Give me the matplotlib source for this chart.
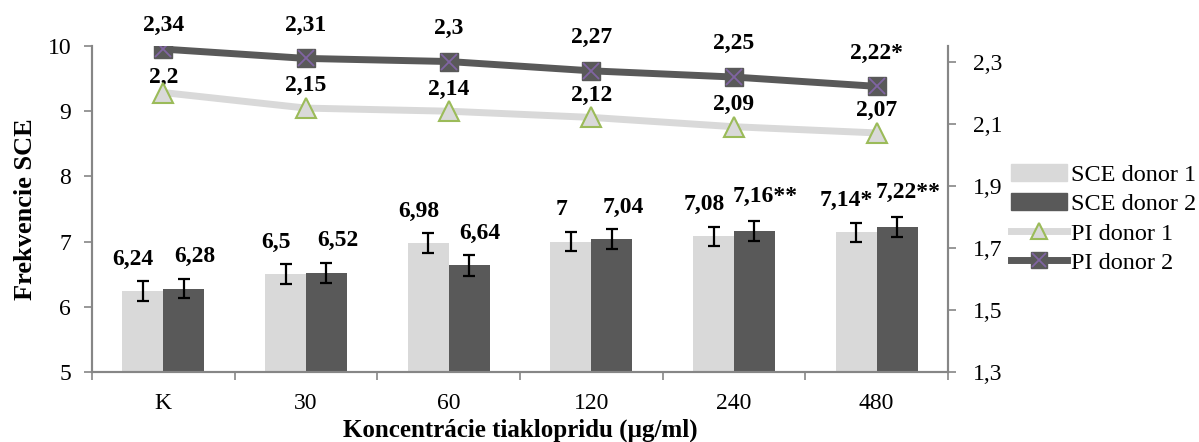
import numpy as np
import matplotlib
matplotlib.use("Agg")
import matplotlib.pyplot as plt
from matplotlib.patches import Patch
from matplotlib.lines import Line2D
from matplotlib.legend_handler import HandlerTuple
from matplotlib.ticker import FuncFormatter

# data
categories = ["K", "30", "60", "120", "240", "480"]
sce_donor1 = [6.24, 6.5, 6.98, 7.0, 7.08, 7.14]
sce_donor2 = [6.28, 6.52, 6.64, 7.04, 7.16, 7.22]
sce_err1 = [0.15, 0.15, 0.15, 0.15, 0.15, 0.15]
sce_err2 = [0.15, 0.15, 0.16, 0.15, 0.15, 0.15]
sce_labels1 = ["6,24", "6,5", "6,98", "7", "7,08", "7,14*"]
sce_labels2 = ["6,28", "6,52", "6,64", "7,04", "7,16**", "7,22**"]
pi_donor1 = [2.2, 2.15, 2.14, 2.12, 2.09, 2.07]
pi_donor2 = [2.34, 2.31, 2.3, 2.27, 2.25, 2.22]
pi_labels1 = ["2,2", "2,15", "2,14", "2,12", "2,09", "2,07"]
pi_labels2 = ["2,34", "2,31", "2,3", "2,27", "2,25", "2,22*"]

light = "#D9D9D9"
dark = "#595959"
green = "#9BBB59"
purple = "#8064A2"
axis_gray = "#868686"

plt.rcParams["font.family"] = ["Liberation Serif", "DejaVu Serif"]

fig = plt.figure(figsize=(11.99, 4.42), dpi=100)
ax = fig.add_axes([92 / 1199, 70 / 442, 856 / 1199, 326 / 442])
ax2 = ax.twinx()

x = np.arange(len(categories))
w = 0.287
ax.bar(x - w / 2, sce_donor1, w, color=light, zorder=2)
ax.bar(x + w / 2, sce_donor2, w, color=dark, zorder=2)
ax.errorbar(x - w / 2, sce_donor1, yerr=sce_err1, fmt="none", ecolor="black",
            elinewidth=1.6, capsize=4.5, capthick=1.6, zorder=3)
ax.errorbar(x + w / 2, sce_donor2, yerr=sce_err2, fmt="none", ecolor="black",
            elinewidth=1.6, capsize=4.5, capthick=1.6, zorder=3)

# value labels above bars (light ones nudged left, dark ones right, as in Excel)
for i in range(len(categories)):
    ax.annotate(sce_labels1[i], (x[i] - w / 2, sce_donor1[i]), xytext=(-7, 23),
                textcoords="offset points", ha="center", va="center",
                fontsize=17, fontweight="bold")
    dy = 25 if sce_labels2[i].endswith("**") else 23
    ax.annotate(sce_labels2[i], (x[i] + w / 2, sce_donor2[i]), xytext=(8, dy),
                textcoords="offset points", ha="center", va="center",
                fontsize=17, fontweight="bold")

ax.set_ylim(5, 10)
ax.set_xlim(-0.5, len(categories) - 0.5)
ax.set_yticks([5, 6, 7, 8, 9, 10])

# x ticks between categories, labels at centres
ax.set_xticks(np.arange(-0.5, len(categories)), minor=False)
ax.set_xticklabels([])
ax.set_xticks(x, minor=True)
ax.set_xticklabels(categories, minor=True)
ax.tick_params(axis="x", which="major", direction="out", length=6, color=axis_gray, width=1.2)
ax.tick_params(axis="x", which="minor", length=0, labelsize=17, pad=15)
ax.tick_params(axis="y", direction="out", length=6, color=axis_gray, width=1.2,
               labelsize=17, pad=9)

ax.spines["top"].set_visible(False)
ax2.spines["top"].set_visible(False)
for s in ["left", "bottom", "right"]:
    ax.spines[s].set_color(axis_gray)
    ax.spines[s].set_linewidth(1.5)
    ax2.spines[s].set_color(axis_gray)
    ax2.spines[s].set_linewidth(1.5)

# lines on secondary axis
ax2.plot(x, pi_donor1, color=light, lw=5, zorder=3)
ax2.plot(x, pi_donor1, linestyle="none", marker="^", markersize=14,
         markerfacecolor=light, markeredgecolor=green, markeredgewidth=1.5, zorder=4)
ax2.plot(x, pi_donor2, color=dark, lw=5, zorder=3)
ax2.plot(x, pi_donor2, linestyle="none", marker="s", markersize=12.5,
         markerfacecolor=dark, markeredgecolor=dark, zorder=4)
ax2.plot(x, pi_donor2, linestyle="none", marker="x", markersize=11,
         markeredgecolor=purple, markeredgewidth=1.3, zorder=5)

for i in range(len(categories)):
    off1 = 16 if i > 0 else 11
    ax2.annotate(pi_labels1[i], (x[i], pi_donor1[i]), xytext=(0, off1),
                 textcoords="offset points", ha="center", va="center",
                 fontsize=17, fontweight="bold")
    off2 = 24 if i > 0 else 17
    ax2.annotate(pi_labels2[i], (x[i], pi_donor2[i]), xytext=(0, off2),
                 textcoords="offset points", ha="center", va="center",
                 fontsize=17, fontweight="bold")

ax2.set_ylim(1.3, 2.35)
ax2.set_yticks([1.3, 1.5, 1.7, 1.9, 2.1, 2.3])
ax2.yaxis.set_major_formatter(FuncFormatter(lambda v, p: f"{v:.1f}".replace(".", ",")))
ax2.tick_params(axis="y", direction="out", length=6, color=axis_gray, width=1.2,
                labelsize=17, pad=12)

ax.set_ylabel("Frekvencie SCE", fontsize=19, fontweight="bold", va="center")
ax.yaxis.set_label_coords((26 - 92) / 856, 0.5)
ax.set_xlabel("Koncentrácie tiaklopridu (µg/ml)", fontsize=18, fontweight="bold", va="center")
ax.xaxis.set_label_coords(0.5, (372 - 430) / 326)

handles = [
    Patch(color=light),
    Patch(color=dark),
    (Line2D([], [], color=light, lw=5),
     Line2D([], [], linestyle="none", marker="^", markersize=12,
            markerfacecolor=light, markeredgecolor=green, markeredgewidth=1.5)),
    (Line2D([], [], color=dark, lw=5),
     Line2D([], [], linestyle="none", marker="s", markersize=11,
            markerfacecolor=dark, markeredgecolor=dark),
     Line2D([], [], linestyle="none", marker="x", markersize=10,
            markeredgecolor=purple, markeredgewidth=1.3)),
]
labels = ["SCE donor 1", "SCE donor 2", "PI donor 1", "PI donor 2"]
fig.legend(handles, labels, loc="upper left", bbox_to_anchor=(1011 / 1199, 1 - 164 / 442),
           frameon=False, fontsize=17.5, handlelength=2.3, handletextpad=0.15,
           labelspacing=0.3, borderaxespad=0, borderpad=0,
           handler_map={tuple: HandlerTuple(ndivide=1)})

fig.savefig("out.png", dpi=100)
